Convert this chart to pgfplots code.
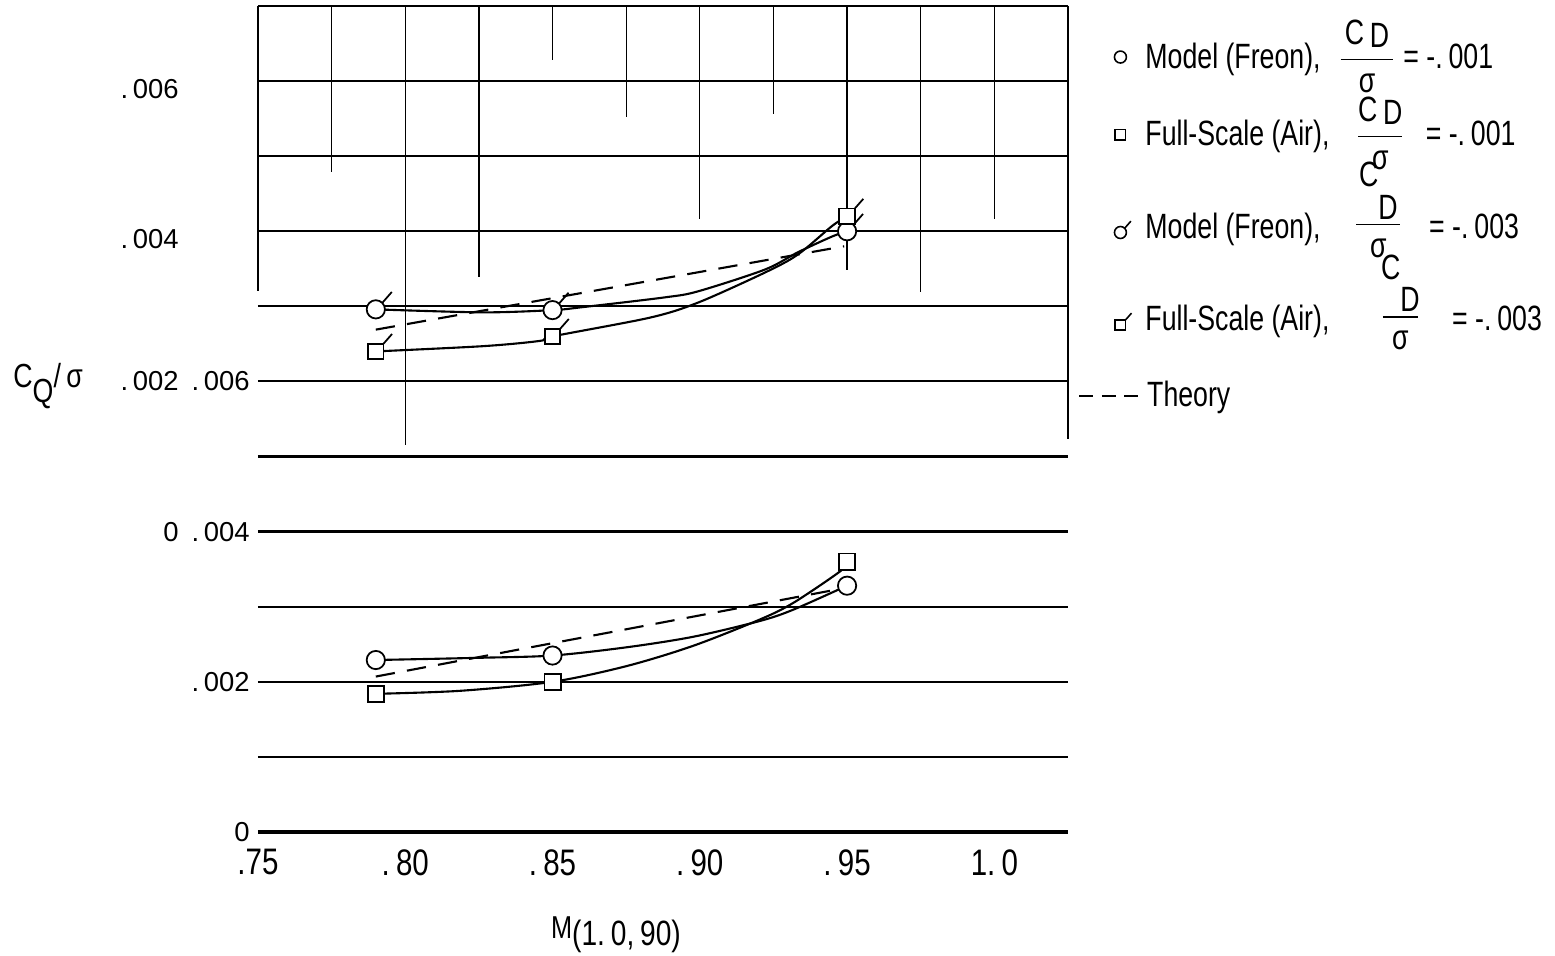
\documentclass[border=0pt]{standalone}
\usepackage{fontspec}
\setmainfont{Liberation Sans}[FakeStretch=0.8]
\newfontfamily\ylabfont{Liberation Sans}
\newfontfamily\legfont{Liberation Sans}[FakeStretch=0.76]
\usepackage{amsmath}
\usepackage{pgfplots}
\pgfplotsset{compat=1.18}
\usetikzlibrary{calc}

\pgfdeclareplotmark{flagcirc}{%
  \pgfpathcircle{\pgfpointorigin}{\pgfplotmarksize}%
  \pgfusepathqfillstroke
  \pgfpathmoveto{\pgfqpoint{0.7\pgfplotmarksize}{0.7\pgfplotmarksize}}%
  \pgfpathlineto{\pgfqpoint{1.75\pgfplotmarksize}{1.9\pgfplotmarksize}}%
  \pgfusepathqstroke}
\pgfdeclareplotmark{flagsq}{%
  \pgfpathrectangle{\pgfqpoint{-\pgfplotmarksize}{-\pgfplotmarksize}}{\pgfqpoint{2\pgfplotmarksize}{2\pgfplotmarksize}}%
  \pgfusepathqfillstroke
  \pgfpathmoveto{\pgfqpoint{\pgfplotmarksize}{\pgfplotmarksize}}%
  \pgfpathlineto{\pgfqpoint{2.1\pgfplotmarksize}{2.25\pgfplotmarksize}}%
  \pgfusepathqstroke}

\pgfplotsset{
  markimg/.style={legend image code/.code={%
      \path[draw=none, fill=none] (0cm,0cm) -- (0.6cm,0cm);
      \draw[##1, yshift=#1] plot coordinates {(0.42cm,0cm)};}},
  legrow/.style={at={(ax.south west)}, anchor=south west, scale only axis,
    width=8.10cm, height=8.26cm, xmin=0, xmax=1, ymin=0, ymax=1, hide axis,
    legend cell align=left,
    legend style={draw=none, fill=none, at={(1.012,#1)}, anchor=west, inner sep=0pt,
      font=\legfont\fontsize{10}{12}\selectfont}},
}

\newcommand{\fracA}[1]{$\dfrac{\text{\makebox[#1][c]{C\,\raisebox{-0.15ex}{D}}}}{\text{σ}}$}
\newcommand{\fracB}[1]{\raisebox{1.5pt}{$\dfrac{\text{\makebox[#1][c]{C\raisebox{-1.75ex}{D}}}}{\text{σ}}$}}

% curves (points read along the drawn curves) and measured points
\pgfplotstableread{
x y
0.79 0.00229
0.8254 0.00232
0.85 0.00235
0.8752 0.00246
0.8978 0.00260
0.9204 0.00281
0.9317 0.00296
0.95 0.00328
}\modelAc
\pgfplotstableread{
x y
0.79 0.00229
0.85 0.00235
0.95 0.00328
}\modelA
\pgfplotstableread{
x y
0.79 0.00184
0.8186 0.00188
0.85 0.00200
0.8752 0.00221
0.8978 0.00248
0.9204 0.00283
0.9317 0.00305
0.9476 0.00347
0.95 0.00360
}\fullAc
\pgfplotstableread{
x y
0.79 0.00184
0.85 0.00200
0.95 0.00360
}\fullA
\pgfplotstableread{
x y
0.79 0.00207
0.948 0.00324
}\theoryA
\pgfplotstableread{
x y
0.79 0.00696
0.8264 0.00692
0.85 0.00695
0.8603 0.00699
0.8882 0.00712
0.8994 0.00720
0.9221 0.00749
0.9333 0.00772
0.9449 0.00793
0.95 0.00800
}\modelBc
\pgfplotstableread{
x y
0.79 0.00696
0.85 0.00695
0.95 0.00800
}\modelB
\pgfplotstableread{
x y
0.79 0.00640
0.8265 0.00647
0.8457 0.00654
0.85 0.00660
0.8831 0.00685
0.8994 0.00705
0.9221 0.00745
0.9333 0.00769
0.9449 0.00807
0.95 0.00820
}\fullBc
\pgfplotstableread{
x y
0.79 0.00640
0.85 0.00660
0.95 0.00820
}\fullB
\pgfplotstableread{
x y
0.79 0.00669
0.949 0.00780
}\theoryB

\begin{document}
\begin{tikzpicture}
\begin{axis}[name=ax, scale only axis, width=8.10cm, height=8.26cm,
  xmin=0.75, xmax=1.025, ymin=0, ymax=0.011,
  axis line style={draw=none}, clip=false,
  major tick length=0pt, scaled y ticks=false, scaled x ticks=false,
  xtick={0.75,0.80,0.85,0.90,0.95,1.0},
  xticklabels={.75,{.\,80},{.\,85},{.\,90},{.\,95},{1.\,0}},
  x tick label style={font=\fontsize{10.5}{12}\selectfont, yshift=-0.05cm},
  ytick={0,0.002,0.004,0.006},
  yticklabels={0,{.\,002},{.\,004},{.\,006}},
  extra y ticks={0.004,0.006,0.008,0.010},
  extra y tick labels={0,{.\,002},{\raisebox{-5pt}[0pt][0pt]{.\,004}},{\raisebox{-5pt}[0pt][0pt]{.\,006}}},
  extra y tick style={y tick label style={xshift=-0.71cm}},
  y tick label style={font=\ylabfont\fontsize{7.8}{9}\selectfont, xshift=0.04cm},
  xlabel={{\fontsize{9}{10}\selectfont M}\raisebox{-0.2em}{(1.\,0,\,90)}},
  xlabel style={at={(axis description cs:0.442,0)}, anchor=center, yshift=-1.03cm, font=\fontsize{10}{12}\selectfont},
]
% graph paper: horizontal lines
\draw[line width=0.9pt] (0.75,0) -- (1.025,0);
\draw[line width=0.6pt] (0.75,0.001) -- (1.025,0.001);
\draw[line width=0.6pt] (0.75,0.002) -- (1.025,0.002);
\draw[line width=0.6pt] (0.75,0.003) -- (1.025,0.003);
\draw[line width=0.9pt] (0.75,0.004) -- (1.025,0.004);
\draw[line width=0.6pt] (0.75,0.005) -- (1.025,0.005);
\draw[line width=0.6pt] (0.75,0.006) -- (1.025,0.006);
\draw[line width=0.6pt] (0.75,0.007) -- (1.025,0.007);
\draw[line width=0.6pt] (0.75,0.008) -- (1.025,0.008);
\draw[line width=0.6pt] (0.75,0.009) -- (1.025,0.009);
\draw[line width=0.6pt] (0.75,0.010) -- (1.025,0.010);
\draw[line width=0.6pt] (0.75,0.011) -- (1.025,0.011);
% graph paper: partial vertical lines
\draw[line width=0.4pt] (0.750,0.011) -- (0.750,0.0072);
\draw[line width=0.35pt] (0.775,0.011) -- (0.775,0.00879);
\draw[line width=0.35pt] (0.800,0.011) -- (0.800,0.00516);
\draw[line width=0.35pt] (0.825,0.011) -- (0.825,0.00739);
\draw[line width=0.35pt] (0.850,0.011) -- (0.850,0.01028);
\draw[line width=0.35pt] (0.875,0.011) -- (0.875,0.00952);
\draw[line width=0.35pt] (0.900,0.011) -- (0.900,0.00816);
\draw[line width=0.35pt] (0.925,0.011) -- (0.925,0.00956);
\draw[line width=0.35pt] (0.950,0.011) -- (0.950,0.00749);
\draw[line width=0.35pt] (0.975,0.011) -- (0.975,0.00719);
\draw[line width=0.35pt] (1.000,0.011) -- (1.000,0.00816);
\draw[line width=0.4pt] (1.025,0.011) -- (1.025,0.00523);

% lower panel (C_D/sigma = -.001)
\addplot[smooth, line width=0.6pt] table[x=x,y=y] {\modelAc};
\addplot[smooth, line width=0.6pt] table[x=x,y=y] {\fullAc};
\addplot[line width=0.6pt, dash pattern=on 5.5pt off 3.5pt] table[x=x,y=y] {\theoryA};
\addplot[only marks, mark=*, mark size=2.6pt, mark options={fill=white, draw=black, line width=0.5pt}] table[x=x,y=y] {\modelA};
\addplot[only marks, mark=square*, mark size=2.3pt, mark options={fill=white, draw=black, line width=0.5pt}] table[x=x,y=y] {\fullA};
% upper panel (C_D/sigma = -.003), plotted on the offset scale
\addplot[smooth, line width=0.6pt] table[x=x,y=y] {\modelBc};
\addplot[smooth, line width=0.6pt] table[x=x,y=y] {\fullBc};
\addplot[line width=0.6pt, dash pattern=on 5.5pt off 3.5pt] table[x=x,y=y] {\theoryB};
\addplot[only marks, mark=flagcirc, mark size=2.6pt, mark options={fill=white, draw=black, line width=0.5pt}] table[x=x,y=y] {\modelB};
\addplot[only marks, mark=flagsq, mark size=2.2pt, mark options={fill=white, draw=black, line width=0.5pt}] table[x=x,y=y] {\fullB};

\node[font=\fontsize{9.5}{11}\selectfont] at (rel axis cs:-0.259,0.54) {C\raisebox{-0.85ex}{Q}/\,σ};
\end{axis}

% legend, one row per overlay axis so that the rows sit where the reference has them
\begin{axis}[legrow=0.9503]
\addlegendimage{markimg=-2.85pt, only marks, mark=*, mark size=1.7pt, mark options={fill=white, draw=black, line width=0.45pt}}
\addlegendentry{Model (Freon),\hspace{4.5pt}\fracA{15pt}\,= -.\,001}
\end{axis}
\begin{axis}[legrow=0.8571]
\addlegendimage{markimg=-3.1pt, only marks, mark=square*, mark size=1.5pt, mark options={fill=white, draw=black, line width=0.45pt}}
\addlegendentry{Full-Scale (Air),\hspace{7pt}\fracA{12.5pt}\hspace{5.5pt}= -.\,001}
\end{axis}
\begin{axis}[legrow=0.7615]
\addlegendimage{markimg=-8.4pt, only marks, mark=flagcirc, mark size=1.7pt, mark options={fill=white, draw=black, line width=0.45pt}}
\addlegendentry{Model (Freon),\hspace{9pt}\fracB{12.5pt}\hspace{7pt}= -.\,003}
\end{axis}
\begin{axis}[legrow=0.6495]
\addlegendimage{markimg=-8.4pt, only marks, mark=flagsq, mark size=1.5pt, mark options={fill=white, draw=black, line width=0.45pt}}
\addlegendentry{Full-Scale (Air),\hspace{14pt}\fracB{10pt}\hspace{8.5pt}= -.\,003}
\end{axis}
\begin{axis}[legrow=0.5278]
\addlegendimage{line width=0.5pt, dash pattern=on 4pt off 2.4pt}
\addlegendentry{Theory}
\end{axis}

\pgfresetboundingbox
\path[use as bounding box] ($(ax.south west)+(-2.58cm,-1.24cm)$) rectangle ($(ax.north east)+(4.87cm,0.06cm)$);
\end{tikzpicture}
\end{document}
